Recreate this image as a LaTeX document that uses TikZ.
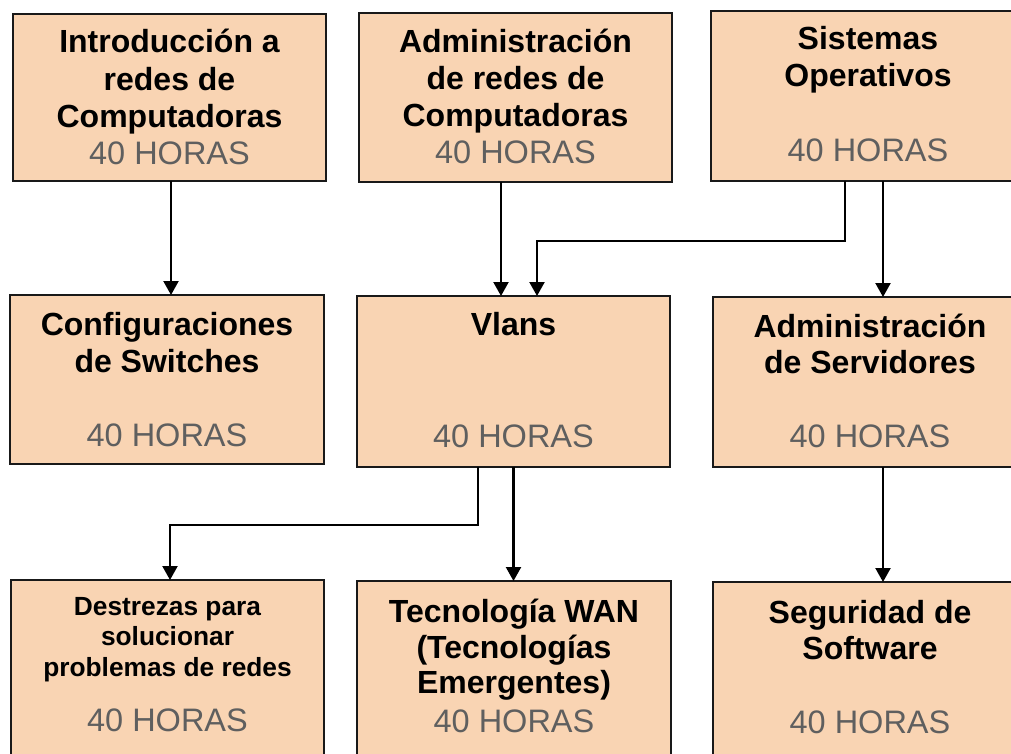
\documentclass[tikz,border=0pt]{standalone}
\usepackage{fontspec}
\setmainfont{Liberation Sans}
\usetikzlibrary{arrows.meta}
\definecolor{boxfill}{HTML}{F9D4B3}
\definecolor{hourgray}{HTML}{5F5F5F}
\begin{document}
\begin{tikzpicture}[x=1pt,y=-1pt,
  box/.style={draw=black!90,line width=2pt,fill=boxfill,rectangle,inner sep=0pt,outer sep=0pt},
  tb/.style={anchor=base,inner sep=0pt,font=\fontsize{32}{37}\selectfont\bfseries},
  ts/.style={anchor=base,inner sep=0pt,font=\fontsize{26.3}{30}\selectfont\bfseries},
  th/.style={anchor=base,inner sep=0pt,text=hourgray,font=\fontsize{32.5}{37}\selectfont},
  arr/.style={line width=2.2pt,-{Triangle[width=15pt,length=14pt]}}]
\useasboundingbox (0,0) rectangle (1011,754);
\clip (0,0) rectangle (1011,754);
% boxes
\node[box,minimum width=313pt,minimum height=167pt] (A) at (169.5,97.5) {};
\node[box,minimum width=313pt,minimum height=169pt] (B) at (515.5,97.5) {};
\node[box,minimum width=314pt,minimum height=170pt] (C) at (868,96) {};
\node[box,minimum width=314pt,minimum height=169pt] (D) at (167,379.5) {};
\node[box,minimum width=313pt,minimum height=171pt] (E) at (513.5,381.5) {};
\node[box,minimum width=314pt,minimum height=170pt] (F) at (870,382) {};
\node[box,minimum width=313pt,minimum height=190pt] (G) at (167.5,675) {};
\node[box,minimum width=314pt,minimum height=190pt] (H) at (514,676) {};
\node[box,minimum width=314pt,minimum height=190pt] (I) at (870,677) {};
% texts
\node[tb] (A1) at (169.5,53) {Introducción a};
\node[tb] (A2) at (169.5,91) {redes de};
\node[tb] (A3) at (169.5,128) {Computadoras};
\node[th] (A4) at (169.5,165) {40 HORAS};
\node[tb] (B1) at (515.5,53) {Administración};
\node[tb] (B2) at (515.5,89.5) {de redes de};
\node[tb] (B3) at (515.5,127) {Computadoras};
\node[th] (B4) at (515.5,163.5) {40 HORAS};
\node[tb] (C1) at (868,50) {Sistemas};
\node[tb] (C2) at (868,87) {Operativos};
\node[th] (C3) at (868,162) {40 HORAS};
\node[tb] (D1) at (167,335) {Configuraciones};
\node[tb] (D2) at (167,372) {de Switches};
\node[th] (D3) at (167,446) {40 HORAS};
\node[tb] (E1) at (513.5,335) {Vlans};
\node[th] (E2) at (513.5,447) {40 HORAS};
\node[tb] (F1) at (870,337) {Administración};
\node[tb] (F2) at (870,373) {de Servidores};
\node[th] (F3) at (870,447) {40 HORAS};
\node[ts] (G1) at (167.5,615) {Destrezas para};
\node[ts] (G2) at (167.5,645) {solucionar};
\node[ts] (G3) at (167.5,676) {problemas de redes};
\node[th] (G4) at (167.5,731) {40 HORAS};
\node[tb] (H1) at (514,622) {Tecnología WAN};
\node[tb] (H2) at (514,658) {(Tecnologías};
\node[tb] (H3) at (514,693) {Emergentes)};
\node[th] (H4) at (514,732) {40 HORAS};
\node[tb] (I1) at (870,623) {Seguridad de};
\node[tb] (I2) at (870,659) {Software};
\node[th] (I3) at (870,733) {40 HORAS};
% connectors
\draw[arr] ([xshift=1.5pt]A.south) -- ([xshift=1.5pt]A.south |- D.north);
\draw[arr] ([xshift=-14.5pt]B.south) -- ([xshift=-14.5pt]B.south |- E.north);
\draw[arr] ([xshift=-23pt]C.south) -- ++(0,60) -| ([xshift=23.5pt]E.north);
\draw[arr] ([xshift=15pt]C.south) -- ([xshift=15pt]C.south |- F.north);
\draw[arr] ([xshift=-35.5pt]E.south) -- ++(0,58) -| ([xshift=2.5pt]G.north);
\draw[arr] (E.south) -- (E.south |- H.north);
\draw[arr] ([xshift=13pt]F.south) -- ([xshift=13pt]F.south |- I.north);
\end{tikzpicture}
\end{document}
